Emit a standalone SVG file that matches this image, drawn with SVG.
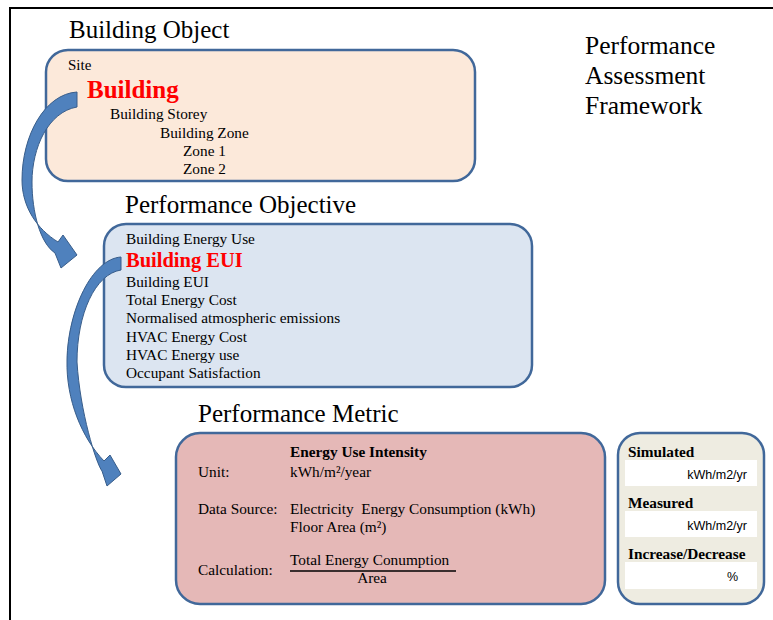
<svg xmlns="http://www.w3.org/2000/svg" width="773" height="620" viewBox="0 0 773 620">
<style>
.t{font-family:"Liberation Serif","Times New Roman",serif;fill:#000}
.title{font-size:25px}
.b{font-size:15.3px}
.bold{font-weight:bold}
.red{fill:#FF0000;font-weight:bold}
.box{stroke:#41689A;stroke-width:2.5}
.arrow{fill:#4F81BD;stroke:#385D8A;stroke-width:1}
.val{font-family:"Liberation Sans",Arial,sans-serif;font-size:12.5px;fill:#000}
</style>
<rect x="0" y="0" width="773" height="620" fill="#FFFFFF"/>
<path d="M10,620 V8 H773" fill="none" stroke="#000" stroke-width="2"/>

<g id="framework-title">
<text class="t" x="585" y="54" style="font-size:25.5px">Performance</text>
<text class="t" x="585" y="84" style="font-size:25.5px">Assessment</text>
<text class="t" x="585" y="114" style="font-size:25.5px">Framework</text>
</g>

<g id="building-object">
<text class="t title" x="69" y="38">Building Object</text>
<rect class="box" x="46" y="50" width="429" height="131" rx="22" fill="#FCE9DA"/>
<text class="t" x="68" y="70" style="font-size:15px">Site</text>
<text class="t red" x="87" y="98" style="font-size:25px">Building</text>
<text class="t b" x="110" y="119">Building Storey</text>
<text class="t b" x="160" y="138">Building Zone</text>
<text class="t b" x="183" y="156">Zone 1</text>
<text class="t b" x="183" y="174">Zone 2</text>
</g>

<g id="performance-objective">
<text class="t title" x="125" y="213">Performance Objective</text>
<rect class="box" x="104" y="224" width="428" height="163" rx="22" fill="#DCE5F1"/>
<text class="t b" x="126" y="244">Building Energy Use</text>
<text class="t red" x="126" y="267" style="font-size:20.5px">Building EUI</text>
<text class="t b" x="126" y="287">Building EUI</text>
<text class="t b" x="126" y="305">Total Energy Cost</text>
<text class="t b" x="126" y="323">Normalised atmospheric emissions</text>
<text class="t b" x="126" y="342">HVAC Energy Cost</text>
<text class="t b" x="126" y="360">HVAC Energy use</text>
<text class="t b" x="126" y="378">Occupant Satisfaction</text>
</g>

<g id="performance-metric">
<text class="t title" x="198" y="422">Performance Metric</text>
<rect class="box" x="176" y="433" width="429" height="171" rx="24" fill="#E5B8B7"/>
<text class="t b bold" x="290" y="457">Energy Use Intensity</text>
<text class="t b" x="198" y="477">Unit:</text>
<text class="t b" x="290" y="477">kWh/m²/year</text>
<text class="t b" x="198" y="514">Data Source:</text>
<text class="t b" x="290" y="514" xml:space="preserve">Electricity  Energy Consumption (kWh)</text>
<text class="t b" x="290" y="532">Floor Area (m²)</text>
<text class="t b" x="198" y="575">Calculation:</text>
<text class="t b" x="290" y="565">Total Energy Conumption</text>
<line x1="290" y1="571" x2="456" y2="571" stroke="#000" stroke-width="1.3"/>
<text class="t b" x="372" y="583" text-anchor="middle">Area</text>
</g>

<g id="measurement">
<rect class="box" x="618" y="433" width="146" height="171" rx="22" fill="#EEECE1"/>
<text class="t b bold" x="628" y="457">Simulated</text>
<rect x="625" y="460" width="132" height="26" fill="#FFFFFF"/>
<text class="val" x="747" y="479" text-anchor="end">kWh/m2/yr</text>
<text class="t b bold" x="628" y="508">Measured</text>
<rect x="625" y="511" width="132" height="26" fill="#FFFFFF"/>
<text class="val" x="747" y="530" text-anchor="end">kWh/m2/yr</text>
<text class="t b bold" x="628" y="559">Increase/Decrease</text>
<rect x="625" y="562" width="132" height="27" fill="#FFFFFF"/>
<text class="val" x="738" y="581" text-anchor="end">%</text>
</g>

<g id="connectors">
<path class="arrow" d="M77,92 C45,94 22,135 22,180 C22,207 37,229 58,242 L63,235 L77,255 L61,268 L55,253 C40,243 32,212 32,182 C32,148 48,112 77,107 Z"/>
<path class="arrow" d="M121,257 C92,259 68,310 67,360 C66,400 82,438 104,461 L110,455 L121,474 L107,486 L102,471 C96,463 80,412 77,362 C77,314 95,274 121,270 Z"/>
</g>
</svg>
